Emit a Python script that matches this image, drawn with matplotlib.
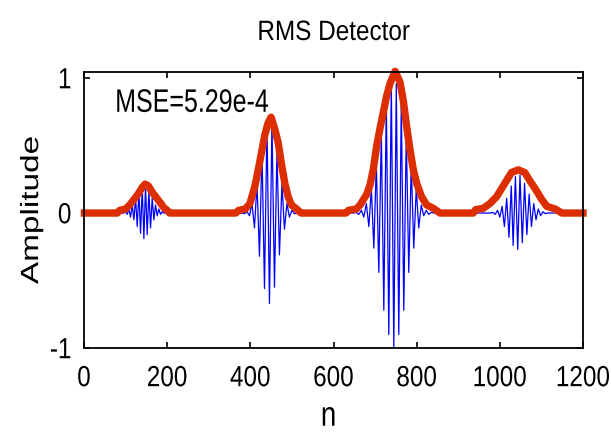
import numpy as np
import matplotlib.pyplot as plt
from matplotlib.patheffects import AbstractPathEffect
from matplotlib.transforms import Affine2D

# blue signal: extrema of the four bursts (sample index, amplitude)
b1_n = [96, 100, 104, 108, 112, 116, 120, 124, 128, 132, 136, 140, 144,
        148, 152, 156, 160, 164, 168, 172, 176, 180, 184, 188, 192]
b1_v = [0, 0.01, -0.01, 0.03, -0.03, 0.06, -0.05, 0.11, -0.10, 0.16, -0.15, 0.19, -0.19,
        0.20, -0.16, 0.16, -0.11, 0.11, -0.05, 0.06, -0.02, 0.03, -0.01, 0.01, 0]

b2_n = [380, 386, 392, 398, 404, 410, 416, 422, 428, 434, 440, 446,
        452, 458, 464, 470, 476, 482, 488, 494, 500, 506, 512]
b2_v = [0, -0.005, 0.01, -0.02, 0.07, -0.11, 0.22, -0.32, 0.47, -0.56, 0.66, -0.67,
        0.68, -0.55, 0.46, -0.31, 0.22, -0.12, 0.07, -0.03, 0.02, -0.005, 0]

b3_n = [649, 655, 661, 667, 673, 679, 685, 691, 697, 703, 709, 715, 721, 727, 733, 739, 745,
        751, 757, 763, 769, 775, 781, 787, 793, 799, 805, 811, 817, 823, 829, 835, 841]
b3_v = [0, 0.005, -0.01, 0.02, -0.03, 0.07, -0.10, 0.18, -0.26, 0.37, -0.44, 0.60, -0.72,
        0.83, -0.90, 0.97, -1.00, 0.96, -0.90, 0.82, -0.72, 0.60, -0.44, 0.36, -0.26, 0.18,
        -0.11, 0.06, -0.02, 0.02, -0.01, 0.005, 0]

b4_n = [978, 983.5, 989, 994.5, 1000, 1005.5, 1011, 1016.5, 1022, 1027.5, 1032, 1037.5, 1043,
        1048.5, 1054, 1059.5, 1065, 1070.5, 1076, 1081.5, 1087, 1092.5, 1098, 1103.5, 1109, 1114]
b4_v = [0, 0.005, -0.01, 0.02, -0.03, 0.05, -0.10, 0.11, -0.18, 0.20, -0.24, 0.27, -0.27,
        0.28, -0.22, 0.22, -0.16, 0.14, -0.10, 0.07, -0.05, 0.03, -0.02, 0.01, -0.005, 0]

# red RMS envelope
red_n = [1, 80, 86, 100, 110, 120, 130, 140, 147, 155, 165, 175, 185, 192, 200, 206,
         365, 372, 388, 399, 411, 419, 427, 435, 443, 450, 459, 467, 475, 483, 491, 499, 511, 522,
         630, 636, 655, 664, 680, 688, 696, 704, 712, 720, 728, 736, 748, 760, 768, 776, 784,
         792, 800, 812, 824, 840, 856,
         936, 942, 960, 976, 992, 1004, 1016, 1028, 1044, 1060, 1072, 1085, 1101, 1113, 1133,
         1149, 1200]
red_v = [0, 0, 0.02, 0.03, 0.06, 0.10, 0.14, 0.19, 0.215, 0.20, 0.15, 0.11, 0.07, 0.04, 0.02, 0,
         0, 0.02, 0.03, 0.07, 0.20, 0.32, 0.45, 0.58, 0.67, 0.71, 0.62, 0.52, 0.36, 0.22, 0.12,
         0.06, 0.03, 0,
         0, 0.02, 0.03, 0.06, 0.14, 0.21, 0.33, 0.50, 0.63, 0.75, 0.87, 0.96, 1.05, 0.97, 0.83,
         0.64, 0.47, 0.32, 0.22, 0.12, 0.06, 0.035, 0,
         0, 0.025, 0.035, 0.07, 0.12, 0.18, 0.24, 0.30, 0.32, 0.30, 0.24, 0.18, 0.10, 0.05, 0.03,
         0, 0]

mse_text = 'MSE=5.29e-4'

blue_n = [1] + b1_n + b2_n + b3_n + b4_n + [1200]
blue_v = [0] + b1_v + b2_v + b3_v + b4_v + [0]

font = ['Liberation Sans', 'DejaVu Sans']


class Stretch(AbstractPathEffect):
    # scale glyphs vertically about the middle of the cap height
    def __init__(self, sy):
        super().__init__()
        self.sy = sy

    def draw_path(self, renderer, gc, tpath, affine, rgbFace=None):
        t = Affine2D().translate(0, -36).scale(1, self.sy).translate(0, 36)
        renderer.draw_path(gc, tpath, t + affine, rgbFace)


fig = plt.figure(figsize=(6.11, 4.36), dpi=100)
ax = fig.add_axes([84 / 611, 1 - 348 / 436, 499 / 611, 276 / 436])

ax.plot(blue_n, blue_v, color='#0000ff', lw=0.9)
ax.plot(red_n, red_v, color='#dc2e00', lw=5.3, solid_joinstyle='round', clip_on=False)

ax.set_xlim(0, 1200)
ax.set_ylim(-1, 1.045)
ax.set_xticks([0, 200, 400, 600, 800, 1000, 1200])
ax.set_yticks([-1, 0, 1])
ax.set_yticklabels(['-1', '0', '1'])

ax.tick_params(direction='in', length=4, width=1.2, top=True, right=True, pad=9)
ax.tick_params(axis='x', pad=14)
for lab in ax.get_xticklabels() + ax.get_yticklabels():
    lab.set_family(font)
    lab.set_fontsize(17.5)
    lab.set_path_effects([Stretch(1.2)])
for sp in ax.spines.values():
    sp.set_linewidth(1.3)

ax.text(75, 0.77, mse_text, family=font, fontsize=18, va='baseline',
        path_effects=[Stretch(1.3)])

ax.set_title('RMS Detector', family=font, fontsize=17.5, pad=24,
             path_effects=[Stretch(1.15)])
xl = ax.set_xlabel('n', family=font, fontsize=20)
xl.set_path_effects([Stretch(1.25)])
yl = ax.set_ylabel('Amplitude', family=font, fontsize=24)
yl.set_path_effects([Stretch(0.75)])
ax.yaxis.set_label_coords(-0.072, 0.5)
ax.xaxis.set_label_coords(0.49, -0.2)

fig.savefig('out.png', dpi=100)
